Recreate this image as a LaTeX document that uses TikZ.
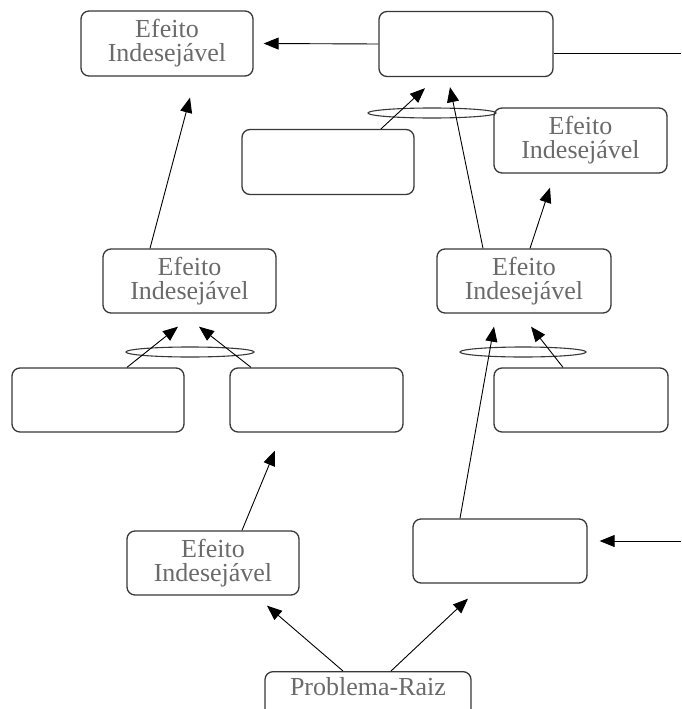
\documentclass[tikz,border=0pt]{standalone}
\usepackage{fontspec}
\setmainfont{Liberation Serif}
\usetikzlibrary{shapes.geometric, arrows.meta, positioning}

\definecolor{txtgray}{HTML}{6A6A6A}
\definecolor{edgegray}{HTML}{383838}

\begin{document}
\begin{tikzpicture}[x=1pt, y=-1pt,
    % Define styles
    effect/.style={rectangle, draw=edgegray, line width=1.3pt, rounded corners=8pt, minimum width=172pt, minimum height=65pt, inner sep=0pt, align=center, text=txtgray, font=\fontsize{26}{24}\selectfont},
    andsign/.style={ellipse, draw=edgegray, line width=1.1pt, minimum height=10pt, inner sep=0pt},
    arrow/.style={-{Triangle[length=15pt, width=12pt]}, line width=0.9pt},
    line/.style={line width=0.9pt}
  ]
  \useasboundingbox (0,0) rectangle (681,709);

  % Top row
  \node[effect] (topleft) at (167,43.5) {Efeito\\Indesejável};
  \node[effect, minimum width=174pt] (topmid) at (466,44) {};
  \coordinate (outtop) at (681,53);
  \draw[line] ([yshift=-9pt]topmid.east) -- (outtop);
  \draw[arrow] (topmid.west) -- ([xshift=10pt]topleft.east);

  % Second row
  \node[effect] (cond1) at (328,162) {};
  \node[effect, minimum width=173pt] (effright) at (580.5,140.5) {Efeito\\Indesejável};
  \node[andsign, minimum width=128pt] (and1) at (432,113) {};

  % Middle row
  \node[effect, minimum width=173pt, minimum height=64pt] (effmidleft) at (189.5,281) {Efeito\\Indesejável};
  \node[effect, minimum width=174pt, minimum height=64pt] (effmidright) at (524,281) {Efeito\\Indesejável};

  \draw[arrow] ([xshift=53pt]cond1.north) -- ([xshift=-41pt, yshift=-11pt]topmid.south);
  \draw[arrow] ([xshift=-41pt]effmidright.north) -- ([xshift=-16pt, yshift=-10pt]topmid.south);
  \draw[arrow] ([xshift=6pt]effmidright.north) -- ([xshift=-30.5pt, yshift=-14pt]effright.south);
  \draw[arrow] ([xshift=-39.5pt]effmidleft.north) -- ([xshift=23pt, yshift=-21pt]topleft.south);

  % Lower row
  \node[effect, minimum height=64pt] (cond2) at (98,400) {};
  \node[effect, minimum width=173pt, minimum height=64pt] (cond3) at (316.5,400) {};
  \node[effect, minimum width=174pt, minimum height=64pt] (cond4) at (581,400) {};
  \node[andsign, minimum width=128pt] (and2) at (190,352) {};
  \node[andsign, minimum width=126pt] (and3) at (523,352) {};

  \draw[arrow] ([xshift=29pt]cond2.north) -- ([xshift=-11.5pt, yshift=-13pt]effmidleft.south);
  \draw[arrow] ([xshift=-65.5pt]cond3.north) -- ([xshift=9.5pt, yshift=-13pt]effmidleft.south);
  \draw[arrow] ([xshift=-18pt]cond4.north) -- ([xshift=7pt, yshift=-13pt]effmidright.south);

  % Bottom
  \node[effect, minimum width=174pt, minimum height=64pt] (cond5) at (500,551) {};
  \node[effect, minimum height=64pt] (effbottom) at (213,563) {Efeito\\Indesejável};
  \node[effect, minimum width=206pt, minimum height=67pt, anchor=north] (root) at (368,671) {};
  \node[text=txtgray, font=\fontsize{26}{24}\selectfont, anchor=base] (rootlabel) at (368,695) {Problema-Raiz};
  \coordinate (incond) at (681,541);

  \draw[arrow] ([xshift=-40pt]cond5.north) -- ([xshift=-30pt, yshift=-13pt]effmidright.south);
  \draw[arrow] (incond) -- ([xshift=12pt, yshift=10pt]cond5.east);
  \draw[arrow] ([xshift=29pt]effbottom.north) -- ([xshift=-41.5pt, yshift=-18pt]cond3.south);
  \draw[arrow] ([xshift=-25pt]root.north) -- ([xshift=54pt, yshift=-10pt]effbottom.south);
  \draw[arrow] ([xshift=23pt]root.north) -- ([xshift=-32pt, yshift=-15pt]cond5.south);

\end{tikzpicture}
\end{document}
